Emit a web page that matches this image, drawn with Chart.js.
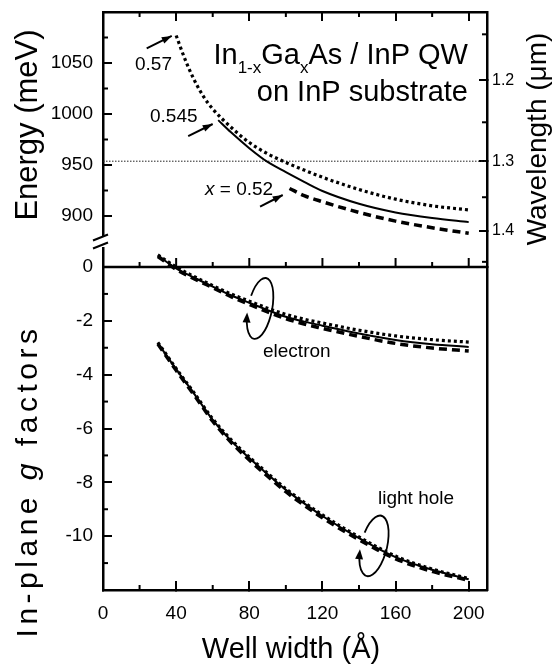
<!DOCTYPE html>
<html>
<head>
<meta charset="utf-8">
<script src="https://cdn.jsdelivr.net/npm/chart.js@4.4.1/dist/chart.umd.min.js"></script>
<style>
  html, body { margin: 0; padding: 0; background: #fff; }
  #wrap { width: 555px; height: 666px; }
</style>
</head>
<body>
<div id="wrap"><canvas id="chart" width="555" height="666"></canvas></div>
<script>
const FONT = '"Liberation Sans", Arial, Helvetica, sans-serif';
const HC = 1239.84; // meV * um

// axis ranges and ticks
const widthMin = 0, widthMax = 210;
const energyMin = 850, energyMax = 1100;
const gMin = -12, gMax = 0;
const widthTicks = [0, 40, 80, 120, 160, 200];
const widthMinor = [20, 60, 100, 140, 180];
const energyTicks = [900, 950, 1000, 1050];
const energyMinor = [925, 975, 1025, 1075];
const gTicks = [0, -2, -4, -6, -8, -10];
const gMinor = [-1, -3, -5, -7, -9, -11];
const wavelengthTicks = [1.2, 1.3, 1.4];
const wavelengthMinor = [1.15, 1.25, 1.35, 1.45];
const refWavelength = 1.3;

// transition energy vs well width (x = 0.57, 0.545, 0.52)
const width057 = [40, 45, 50, 55, 60, 70, 80, 90, 100, 110, 120, 140, 160, 180, 200];
const energy057 = [1077, 1053, 1033, 1017, 1005, 987, 972, 961, 952.5, 945, 938, 926, 916.5, 910, 906];
const width0545 = [63, 70, 80, 90, 100, 110, 120, 140, 160, 180, 200];
const energy0545 = [994, 982, 966.5, 953, 943, 933.5, 924.5, 912, 903.5, 898, 894];
const width052 = [102, 110, 120, 140, 160, 180, 200];
const energy052 = [927, 920, 914, 903.5, 895, 888.5, 883];

// in-plane g factors
const widthG = [30, 40, 50, 60, 70, 80, 90, 100, 110, 120, 140, 160, 180, 200];
const gElectron057 = [0.45, 0.0, -0.36, -0.69, -1.00, -1.27, -1.53, -1.76, -1.94, -2.08, -2.35, -2.56, -2.70, -2.79];
const gElectron0545 = [0.42, -0.05, -0.40, -0.73, -1.05, -1.33, -1.60, -1.85, -2.03, -2.18, -2.47, -2.71, -2.87, -2.97];
const gElectron052 = [0.39, -0.09, -0.44, -0.77, -1.10, -1.39, -1.67, -1.92, -2.12, -2.28, -2.58, -2.84, -3.01, -3.12];
const gHole057 = [-2.80, -3.77, -4.69, -5.64, -6.41, -7.06, -7.66, -8.24, -8.74, -9.21, -10.03, -10.74, -11.22, -11.57];
const gHole0545 = [-2.83, -3.80, -4.72, -5.68, -6.45, -7.10, -7.70, -8.28, -8.78, -9.25, -10.07, -10.78, -11.25, -11.60];
const gHole052 = [-2.86, -3.84, -4.77, -5.73, -6.51, -7.17, -7.77, -8.35, -8.85, -9.32, -10.13, -10.84, -11.31, -11.64];

function pts(xs, ys) { return xs.map((v, i) => ({x: v, y: ys[i]})); }

function series(xs, ys, axis, style) {
  const base = {
    data: pts(xs, ys), xAxisID: 'x', yAxisID: axis, borderColor: '#000',
    pointRadius: 0, fill: false, cubicInterpolationMode: 'monotone', clip: false
  };
  if (style === 'dot') return {...base, borderWidth: 3.2, borderDash: [3, 3]};
  if (style === 'dash') return {...base, borderWidth: 3.5, borderDash: [8, 5]};
  return {...base, borderWidth: 2};
}

const refEnergy = HC / refWavelength;

const datasets = [
  series(width057, energy057, 'yE', 'dot'),
  series(width0545, energy0545, 'yE', 'solid'),
  series(width052, energy052, 'yE', 'dash'),
  series(widthG, gElectron057, 'yG', 'dot'),
  series(widthG, gElectron0545, 'yG', 'solid'),
  series(widthG, gElectron052, 'yG', 'dash'),
  series(widthG, gHole057, 'yG', 'dot'),
  series(widthG, gHole0545, 'yG', 'solid'),
  series(widthG, gHole052, 'yG', 'dash'),
  {data: [{x: widthMin, y: refEnergy}, {x: widthMax, y: refEnergy}], xAxisID: 'x', yAxisID: 'yE',
   borderColor: '#222', borderWidth: 1, borderDash: [1.5, 1.5], pointRadius: 0}
];

const tickFont = {family: FONT, size: 19};
function fixedTicks(list) { return s => { s.ticks = list.map(v => ({value: v})); }; }
function grid(len) { return {drawOnChartArea: false, tickLength: len, tickWidth: 2, lineWidth: 2, color: '#000', tickColor: '#000'}; }
function fitV(w) { return s => { s.width = w; s.paddingTop = 0; s.paddingBottom = 0; }; }
function fitH(h) { return s => { s.height = h; s.paddingLeft = 0; s.paddingRight = 0; }; }
const border = {color: '#000', width: 2.5};

// ---------- decorations ----------
function line(ctx, x1, y1, x2, y2) { ctx.beginPath(); ctx.moveTo(x1, y1); ctx.lineTo(x2, y2); ctx.stroke(); }

function arrow(ctx, x1, y1, x2, y2) {
  line(ctx, x1, y1, x2, y2);
  const a = Math.atan2(y2 - y1, x2 - x1), L = 10, W = 3.5;
  ctx.beginPath();
  ctx.moveTo(x2, y2);
  ctx.lineTo(x2 - L * Math.cos(a) + W * Math.sin(a), y2 - L * Math.sin(a) - W * Math.cos(a));
  ctx.lineTo(x2 - L * Math.cos(a) - W * Math.sin(a), y2 - L * Math.sin(a) + W * Math.cos(a));
  ctx.closePath();
  ctx.fill();
}

function runs(ctx, parts, x, y, align, spacing) {
  ctx.letterSpacing = (spacing || 0) + 'px';
  let total = 0;
  parts.forEach(p => {
    ctx.font = `${p.style || ''} ${p.size}px ${FONT}`;
    p.w = ctx.measureText(p.t).width;
    total += p.w;
  });
  let cx = align === 'right' ? x - total : align === 'center' ? x - total / 2 : x;
  parts.forEach(p => {
    ctx.font = `${p.style || ''} ${p.size}px ${FONT}`;
    ctx.fillText(p.t, cx, y + (p.dy || 0));
    cx += p.w;
  });
  ctx.letterSpacing = '0px';
}

function loop(ctx, cx, cy, rx, ry, tilt) {
  const a0 = 200 * Math.PI / 180, a1 = 520 * Math.PI / 180;
  ctx.beginPath();
  ctx.ellipse(cx, cy, rx, ry, tilt, a0, a1);
  ctx.stroke();
  // arrow head at the end, along the tangent
  const t = a1;
  const ex = rx * Math.cos(t), ey = ry * Math.sin(t);
  const dx = -rx * Math.sin(t), dy = ry * Math.cos(t);
  const c = Math.cos(tilt), s = Math.sin(tilt);
  const px = cx + ex * c - ey * s, py = cy + ex * s + ey * c;
  const tx = dx * c - dy * s, ty = dx * s + dy * c;
  const n = Math.hypot(tx, ty), ux = tx / n, uy = ty / n;
  const L = 10, W = 4;
  ctx.beginPath();
  ctx.moveTo(px + ux * 4, py + uy * 4);
  ctx.lineTo(px - ux * (L - 4) + uy * W, py - uy * (L - 4) - ux * W);
  ctx.lineTo(px - ux * (L - 4) - uy * W, py - uy * (L - 4) + ux * W);
  ctx.closePath();
  ctx.fill();
}

const decor = {
  id: 'decor',
  afterDraw(chart) {
    const {ctx, chartArea: ca} = chart;
    const {x, yE, yG, yW} = chart.scales;
    ctx.save();
    ctx.strokeStyle = '#000';
    ctx.fillStyle = '#000';
    ctx.lineCap = 'butt';

    // g = 0 line, also bottom of the energy panel
    const y0 = yG.getPixelForValue(0);
    ctx.lineWidth = 2.5;
    line(ctx, ca.left, y0, ca.right, y0);

    // ticks on the g = 0 line and minor ticks
    ctx.lineWidth = 2;
    widthTicks.forEach(v => { const px = x.getPixelForValue(v); line(ctx, px, y0, px, y0 - 9); });
    widthMinor.forEach(v => {
      const px = x.getPixelForValue(v);
      line(ctx, px, y0, px, y0 - 5);
      line(ctx, px, ca.bottom, px, ca.bottom - 5);
      line(ctx, px, ca.top, px, ca.top + 5);
    });
    energyMinor.forEach(v => { const py = yE.getPixelForValue(v); line(ctx, ca.left, py, ca.left + 5, py); });
    gMinor.forEach(v => { const py = yG.getPixelForValue(v); line(ctx, ca.left, py, ca.left + 5, py); });
    wavelengthMinor.forEach(l => { const py = yW.getPixelForValue(HC / l); line(ctx, ca.right, py, ca.right - 5, py); });

    // axis break on the left axis
    const yb = yE.getPixelForValue(875);
    ctx.fillStyle = '#fff';
    ctx.fillRect(ca.left - 3, yb - 5.5, 6, 11);
    ctx.fillStyle = '#000';
    ctx.lineWidth = 2;
    line(ctx, ca.left - 10, yb - 1, ca.left + 5, yb - 7);
    line(ctx, ca.left - 10, yb + 7, ca.left + 5, yb + 1);

    // panel title
    ctx.textBaseline = 'alphabetic';
    const tx = x.getPixelForValue(199.6);
    runs(ctx, [
      {t: 'In', size: 29}, {t: '1-x', size: 17, dy: 9}, {t: 'Ga', size: 29},
      {t: 'x', size: 17, dy: 9}, {t: 'As / InP QW', size: 29}
    ], tx, yE.getPixelForValue(1049), 'right');
    runs(ctx, [{t: 'on InP substrate', size: 29}], tx, yE.getPixelForValue(1012.5), 'right');

    // composition labels with arrows
    ctx.lineWidth = 2;
    runs(ctx, [{t: '0.57', size: 19}], x.getPixelForValue(17.5), yE.getPixelForValue(1043), 'left');
    arrow(ctx, x.getPixelForValue(23.9), yE.getPixelForValue(1064.4), x.getPixelForValue(37.6), yE.getPixelForValue(1076.5));
    runs(ctx, [{t: '0.545', size: 19}], x.getPixelForValue(25.7), yE.getPixelForValue(992.2), 'left');
    arrow(ctx, x.getPixelForValue(46.6), yE.getPixelForValue(978.4), x.getPixelForValue(60), yE.getPixelForValue(990.2));
    runs(ctx, [{t: 'x', size: 19, style: 'italic'}, {t: ' = 0.52', size: 19}], x.getPixelForValue(55.8), yE.getPixelForValue(920.6), 'left');
    arrow(ctx, x.getPixelForValue(85.9), yE.getPixelForValue(909.1), x.getPixelForValue(98.3), yE.getPixelForValue(920.6));

    // carrier labels with rotation arrows
    runs(ctx, [{t: 'electron', size: 19}], x.getPixelForValue(87.5), yG.getPixelForValue(-3.34), 'left');
    runs(ctx, [{t: 'light hole', size: 19}], x.getPixelForValue(150.4), yG.getPixelForValue(-8.8), 'left');
    ctx.lineWidth = 1.8;
    loop(ctx, x.getPixelForValue(85.9), yG.getPixelForValue(-1.54), 12, 31, 0.2);
    loop(ctx, x.getPixelForValue(148.2), yG.getPixelForValue(-10.36), 13, 31, 0.24);

    // axis titles
    const drawV = (parts, cx, cy, spacing) => {
      ctx.save();
      ctx.translate(cx, cy);
      ctx.rotate(-Math.PI / 2);
      runs(ctx, parts, 0, 0, 'center', spacing);
      ctx.restore();
    };
    drawV([{t: 'Energy (meV)', size: 31}], 37, 125);
    drawV([{t: 'In-plane ', size: 30}, {t: 'g', size: 30, style: 'italic'}, {t: ' factors', size: 30}], 37, 481, 4.5);
    drawV([{t: 'Wavelength (\u03bcm)', size: 28}], 546, 139);
    runs(ctx, [{t: 'Well width (\u00c5)', size: 29}], (ca.left + ca.right) / 2 - 4, 658, 'center');

    ctx.restore();
  }
};

new Chart(document.getElementById('chart').getContext('2d'), {
  type: 'line',
  data: {datasets},
  options: {
    responsive: false,
    animation: false,
    devicePixelRatio: 1,
    layout: {padding: 0},
    plugins: {legend: {display: false}, tooltip: {enabled: false}},
    scales: {
      x: {
        type: 'linear', position: 'bottom', min: widthMin, max: widthMax,
        afterBuildTicks: fixedTicks(widthTicks), afterFit: fitH(76),
        grid: grid(-9), border,
        ticks: {padding: 21, color: '#000', font: tickFont, maxRotation: 0, callback: v => String(v)}
      },
      xTop: {
        type: 'linear', position: 'top', min: widthMin, max: widthMax,
        afterBuildTicks: fixedTicks(widthTicks), afterFit: fitH(12),
        grid: grid(-9), border, ticks: {display: false}
      },
      yG: {
        type: 'linear', position: 'left', stack: 'left', stackWeight: 323, min: gMin, max: gMax,
        afterBuildTicks: fixedTicks(gTicks), afterFit: fitV(103),
        grid: grid(-9), border,
        ticks: {padding: 19, color: '#000', font: tickFont, callback: v => String(v)}
      },
      yE: {
        type: 'linear', position: 'left', stack: 'left', stackWeight: 255, min: energyMin, max: energyMax,
        afterBuildTicks: fixedTicks(energyTicks), afterFit: fitV(103),
        grid: grid(-9), border,
        ticks: {padding: 19, color: '#000', font: tickFont, callback: v => String(v)}
      },
      yW: {
        type: 'linear', position: 'right', stack: 'right', stackWeight: 255, min: energyMin, max: energyMax,
        afterBuildTicks: fixedTicks(wavelengthTicks.map(l => HC / l)), afterFit: fitV(68),
        grid: grid(-8), border,
        ticks: {padding: 13, color: '#000', font: {family: FONT, size: 16}, callback: v => (HC / v).toFixed(1)}
      },
      yR: {
        type: 'linear', position: 'right', stack: 'right', stackWeight: 323, min: gMin, max: gMax,
        afterBuildTicks: fixedTicks([]), afterFit: fitV(68),
        grid: {drawOnChartArea: false, drawTicks: false}, border, ticks: {display: false}
      }
    }
  },
  plugins: [decor]
});
</script>
</body>
</html>
